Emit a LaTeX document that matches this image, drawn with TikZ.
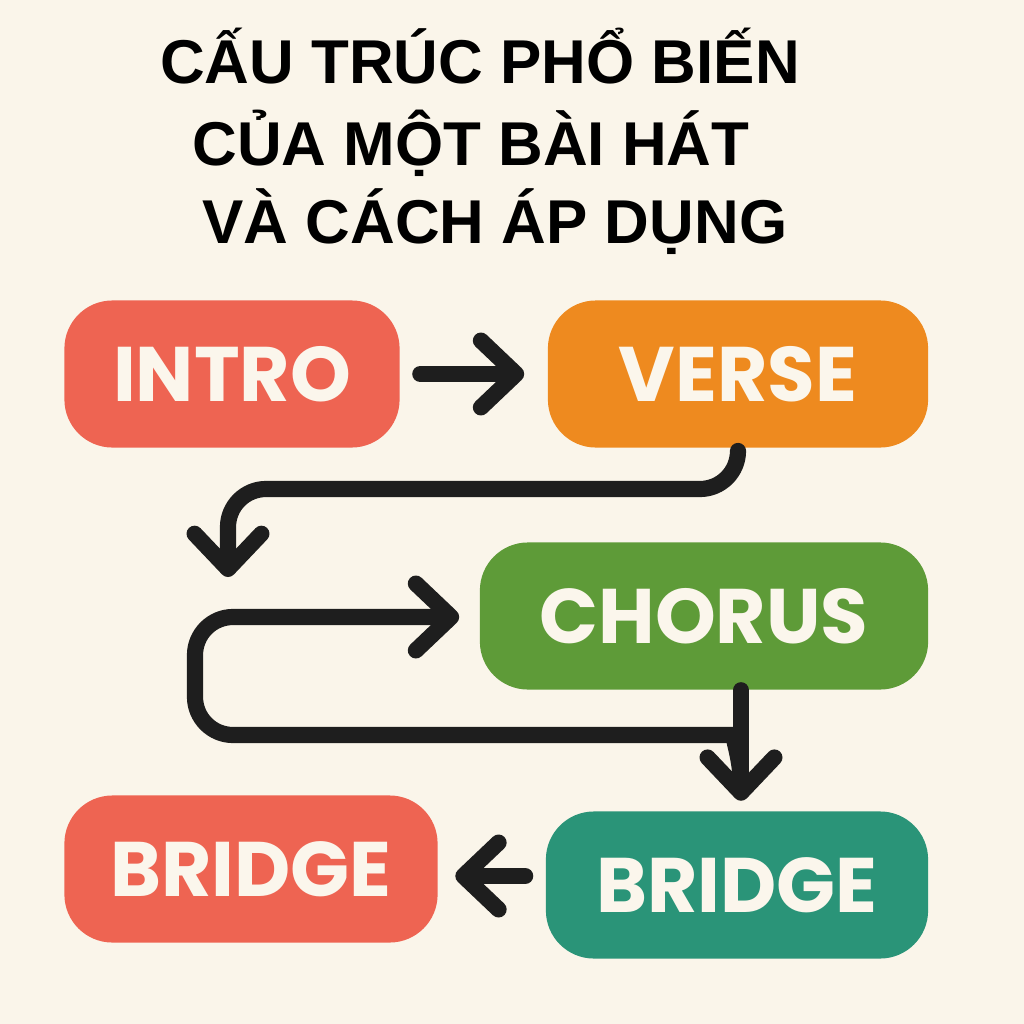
\documentclass[tikz,border=0pt]{standalone}
\usepackage{fontspec}
\setmainfont{Liberation Sans}
\newfontfamily\labelfont{Poppins}
\usetikzlibrary{arrows.meta}
\definecolor{paper}{HTML}{FAF5EA}
\definecolor{ink}{HTML}{1E1E1E}
\definecolor{introcol}{HTML}{EE6452}
\definecolor{versecol}{HTML}{EE8A1F}
\definecolor{choruscol}{HTML}{5E9B38}
\definecolor{bridgecol}{HTML}{2A9478}
\definecolor{labeltxt}{HTML}{FBF6EC}
\tikzset{
  part/.style={rounded corners=4.8mm,minimum height=14.7mm,
    font=\labelfont\bfseries\fontsize{22}{22}\selectfont,text=labeltxt},
  flow/.style={draw=ink,line width=4.6pt,line cap=round,line join=round,
    -{Straight Barb[length=10pt,width=19pt,round]}},
  headline/.style={anchor=base,font=\bfseries\fontsize{17.6}{17.6}\selectfont,text=black}
}
\begin{document}
\begin{tikzpicture}[x=0.01cm,y=-0.01cm]
  \fill[paper] (0,0) rectangle (1024,1024);
  \useasboundingbox (0,0) rectangle (1024,1024);
  % title
  \node[headline] (t1) at (480,83) {CẤU TRÚC PHỔ BIẾN};
  \node[headline] (t2) at (471,165) {CỦA MỘT BÀI HÁT};
  \node[headline] (t3) at (495,243) {VÀ CÁCH ÁP DỤNG};
  % song parts
  \node[part,fill=introcol,minimum width=33.5mm] (intro) at (232,374) {INTRO};
  \node[part,fill=versecol,minimum width=38mm] (verse) at (738,374) {VERSE};
  \node[part,fill=choruscol,minimum width=44.8mm] (chorus) at (704,616) {CHORUS};
  \node[part,fill=bridgecol,minimum width=38.2mm] (bridgeT) at (737,885) {BRIDGE};
  \node[part,fill=introcol,minimum width=37.3mm] (bridgeR) at (251,869) {BRIDGE};
  \coordinate (drop) at (228,577);
  \coordinate (merge) at (741,790);
  % connectors
  \draw[flow,shorten <=2mm,shorten >=2.3mm] (intro) -- (verse);
  \draw[flow,rounded corners=3.8mm] ([yshift=-0.4mm]verse.south) |- (228,489) -- (drop);
  \draw[flow,rounded corners=3.8mm,shorten >=2mm] (merge) .. controls (741,748) and (728,735) .. (700,735)
    -- (195,735) -- (195,617) -- (chorus.west |- 0,617);
  \draw[flow,shorten >=1mm] (chorus.south -| merge) -- (bridgeT.north -| merge);
  \draw[flow,shorten <=2mm,shorten >=1.7mm] (bridgeT.west |- 0,876) -- (bridgeR.east |- 0,876);
\end{tikzpicture}
\end{document}
